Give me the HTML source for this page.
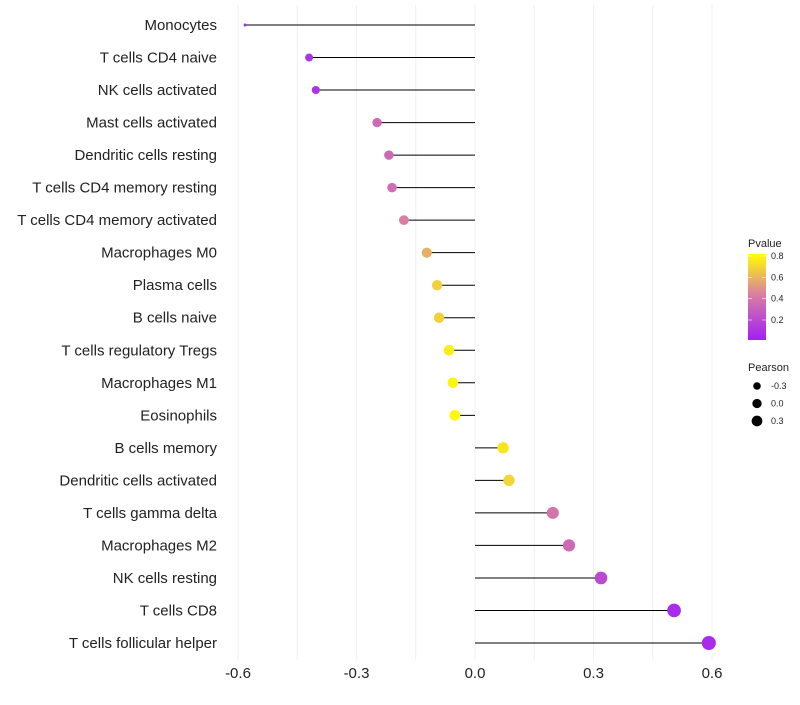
<!DOCTYPE html>
<html><head><meta charset="utf-8"><style>
body{margin:0;background:#fff;font-family:"Liberation Sans",sans-serif}
</style></head><body>
<svg id="c" width="800" height="700" xmlns="http://www.w3.org/2000/svg"></svg>
<script>
const categories=["Monocytes","T cells CD4 naive","NK cells activated","Mast cells activated","Dendritic cells resting","T cells CD4 memory resting","T cells CD4 memory activated","Macrophages M0","Plasma cells","B cells naive","T cells regulatory  Tregs ","Macrophages M1","Eosinophils","B cells memory","Dendritic cells activated","T cells gamma delta","Macrophages M2","NK cells resting","T cells CD8","T cells follicular helper"];
const pearson=[-0.582,-0.42,-0.403,-0.248,-0.218,-0.21,-0.18,-0.122,-0.096,-0.091,-0.066,-0.056,-0.051,0.071,0.086,0.197,0.238,0.319,0.504,0.592];
const pvalues=[0.05,0.1,0.1,0.35,0.35,0.37,0.45,0.6,0.7,0.7,0.8,0.82,0.83,0.77,0.72,0.4,0.35,0.2,0.06,0.06];
const xTicks=[-0.6,-0.3,0.0,0.3,0.6];
const xTickLabels=["-0.6","-0.3","0.0","0.3","0.6"];
const legendTicks=[0.2,0.4,0.6,0.8];
const sizeLegend=[-0.3,0.0,0.3];
const NS="http://www.w3.org/2000/svg",svg=document.getElementById('c');
function el(t,a,p){const e=document.createElementNS(NS,t);for(const k in a)e.setAttribute(k,a[k]);(p||svg).appendChild(e);return e;}
const xs=v=>475+v*395;
const ys=i=>25+i*(618/(categories.length-1));
const rs=v=>v<-0.42?1.5+Math.max(0,(v+0.58))/0.16*2.5:Math.sqrt(16+(v+0.42)*33);
function hex(c){return[parseInt(c.slice(1,3),16),parseInt(c.slice(3,5),16),parseInt(c.slice(5,7),16)];}
const stops=[[0,"#a21ff5"],[0.45,"#d97fa2"],[0.85,"#ffff00"]];
function col(p){p=Math.max(0,Math.min(0.85,p));for(let i=0;i<stops.length-1;i++){const[a,ca]=stops[i],[b,cb]=stops[i+1];if(p<=b){const t=(p-a)/(b-a),A=hex(ca),B=hex(cb);return"rgb("+A.map((v,k)=>Math.round(v+(B[k]-v)*t)).join(",")+")";}}return"#ffff00";}
for(let v=-0.6;v<=0.61;v+=0.15){const g=el('line',{x1:xs(v),x2:xs(v),y1:5,y2:660,stroke:'#f0f0f0','stroke-width':1});}
xTicks.forEach((v,i)=>{const t=el('text',{x:xs(v),y:678,'text-anchor':'middle','font-size':15,fill:'#222'});t.textContent=xTickLabels[i];});
categories.forEach((c,i)=>{const y=ys(i);
const t=el('text',{x:217,y:y+5,'text-anchor':'end','font-size':15,fill:'#222'});t.textContent=c;
const l=el('line',{x1:xs(0),x2:xs(pearson[i]),y1:y,y2:y,stroke:'#000','stroke-width':1});
const d=el('circle',{cx:xs(pearson[i]),cy:y,r:rs(pearson[i]),fill:col(pvalues[i])});});
const defs=el('defs',{});const lg=el('linearGradient',{id:'g',x1:0,y1:1,x2:0,y2:0},defs);
stops.forEach(s=>el('stop',{offset:s[0]/0.85,'stop-color':s[1]},lg));
const lt=el('text',{x:748,y:247,'font-size':11,fill:'#222'});lt.textContent='Pvalue';
const rb=el('rect',{x:748,y:254,width:18,height:86,fill:'url(#g)'});
legendTicks.forEach(v=>{const y=320-(v-0.2)*(64/0.6);const t=el('text',{x:771,y:y+3,'font-size':9,fill:'#222'});t.textContent=v.toFixed(1);el('line',{x1:748,x2:752,y1:y,y2:y,stroke:'#fff','stroke-width':0.6});el('line',{x1:762,x2:766,y1:y,y2:y,stroke:'#fff','stroke-width':0.6});});
const st=el('text',{x:748,y:371,'font-size':11,fill:'#222'});st.textContent='Pearson';
sizeLegend.forEach((v,i)=>{const y=386+i*17.5;const c=el('circle',{cx:757,cy:y,r:rs(v)*0.85,fill:'#000'});const t=el('text',{x:771,y:y+3,'font-size':9,fill:'#222'});t.textContent=v.toFixed(1);});
</script></body></html>
